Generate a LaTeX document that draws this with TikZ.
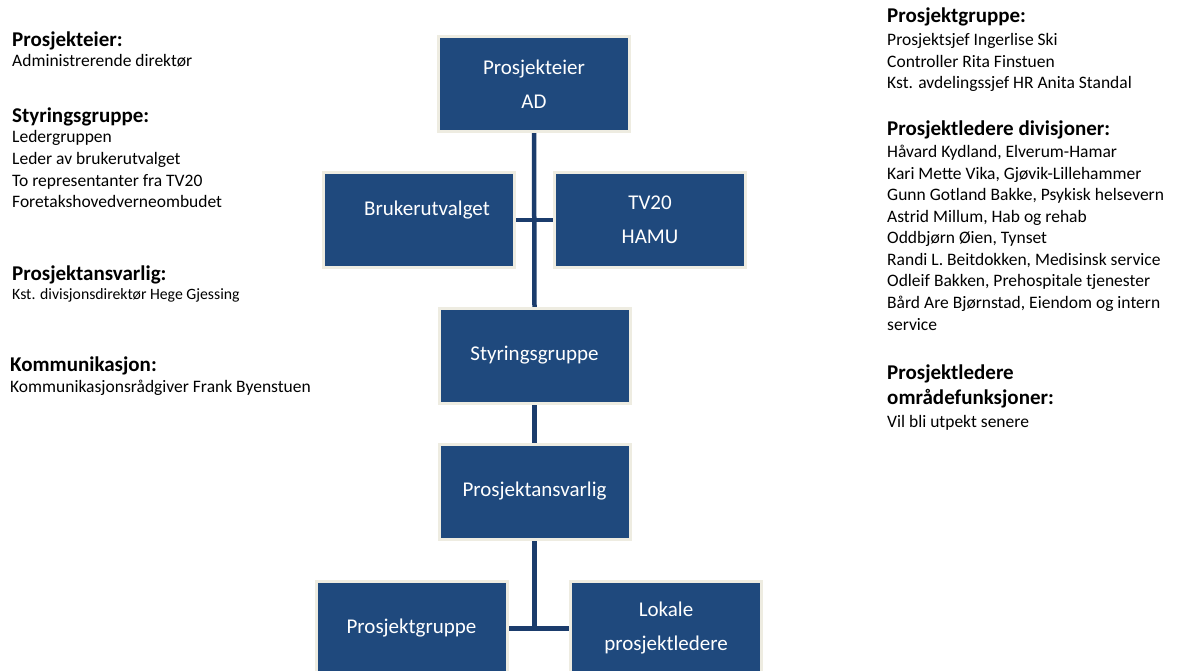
\documentclass[tikz,border=0pt]{standalone}
\usepackage{fontspec}
\setmainfont{Carlito}
\usetikzlibrary{backgrounds}
\definecolor{boxblue}{HTML}{1F497D}
\definecolor{beige}{HTML}{EEECE1}
\definecolor{lineblue}{HTML}{1B3C6C}
\begin{document}
\begin{tikzpicture}[x=1pt,y=-1pt,
 hdr/.style={font=\fontsize{21}{25}\selectfont\bfseries, anchor=base west, inner sep=0pt},
 txt/.style={font=\fontsize{17.5}{21}\selectfont, anchor=base west, inner sep=0pt},
 sml/.style={font=\fontsize{15.75}{19}\selectfont, anchor=base west, inner sep=0pt},
 orgbox/.style={draw=beige, line width=3pt, fill=boxblue, text=white,
   minimum width=191pt, minimum height=95pt, font=\fontsize{21}{34}\selectfont,
   align=center, inner sep=0pt, outer sep=0pt},
 conn/.style={draw=lineblue, line width=4.5pt}]
\clip (0,0) rectangle (1182,671);

% boxes
\node[orgbox] (pe) at (534,84) {Prosjekteier\\AD};
\node[orgbox] (bu) at (419,220) {\hspace*{16pt}Brukerutvalget\\[-10pt]\mbox{}};
\node[orgbox] (tv) at (650,220) {TV20\\HAMU};
\node[orgbox] (sg) at (534.5,355.5) {Styringsgruppe};
\node[orgbox] (pa) at (534.5,491.5) {Prosjektansvarlig};
\node[orgbox] (pg) at (411.5,628.5) {Prosjektgruppe};
\node[orgbox] (lp) at (666,628.5) {Lokale\\prosjektledere};
\coordinate (jn) at (534.5,628.5);

% background and connectors
\begin{scope}[on background layer]
\fill[white] (0,0) rectangle (1182,671);
\draw[conn] (pe.south) -- (sg.north);
\draw[conn] (bu.east) -- (tv.west);
\draw[conn] (sg.south) -- (pa.north);
\draw[conn] (pa.south) -- (jn);
\draw[conn] (pg.east) -- (lp.west);
\end{scope}

% left column
\node[hdr] (l1) at (12,47) {Prosjekteier:};
\node[txt] (l2) at (12,67) {Administrerende direktør};
\node[hdr] (l3) at (12,123) {Styringsgruppe:};
\node[txt] (l4) at (12,143) {Ledergruppen};
\node[txt] (l5) at (12,164.5) {Leder av brukerutvalget};
\node[txt] (l6) at (12,186) {To representanter fra TV20};
\node[txt] (l7) at (12,207.5) {Foretakshovedverneombudet};
\node[hdr] (l8) at (12,280) {Prosjektansvarlig:};
\node[sml] (l9) at (12,299) {Kst. divisjonsdirektør Hege Gjessing};
\node[hdr] (l10) at (10,371) {Kommunikasjon:};
\node[txt] (l11) at (10,392) {Kommunikasjonsrådgiver Frank Byenstuen};

% right column
\node[hdr] (r1) at (887,23) {Prosjektgruppe:};
\node[txt] (r2) at (887,46) {Prosjektsjef Ingerlise Ski};
\node[txt] (r3) at (887,67.5) {Controller Rita Finstuen};
\node[txt] (r4) at (887,89) {Kst. avdelingssjef HR Anita Standal};
\node[hdr] (r5) at (887,136) {Prosjektledere divisjoner:};
\node[txt] (r6) at (887,157.5) {Håvard Kydland, Elverum-Hamar};
\node[txt] (r7) at (887,179) {Kari Mette Vika, Gjøvik-Lillehammer};
\node[txt] (r8) at (887,200.5) {Gunn Gotland Bakke, Psykisk helsevern};
\node[txt] (r9) at (887,222) {Astrid Millum, Hab og rehab};
\node[txt] (r10) at (887,243.5) {Oddbjørn Øien, Tynset};
\node[txt] (r11) at (887,265) {Randi L. Beitdokken, Medisinsk service};
\node[txt] (r12) at (887,286.5) {Odleif Bakken, Prehospitale tjenester};
\node[txt] (r13) at (887,308) {Bård Are Bjørnstad, Eiendom og intern};
\node[txt] (r14) at (887,330) {service};
\node[hdr] (r15) at (887,379) {Prosjektledere};
\node[hdr] (r16) at (887,404) {områdefunksjoner:};
\node[txt] (r17) at (887,427) {Vil bli utpekt senere};
\end{tikzpicture}
\end{document}
